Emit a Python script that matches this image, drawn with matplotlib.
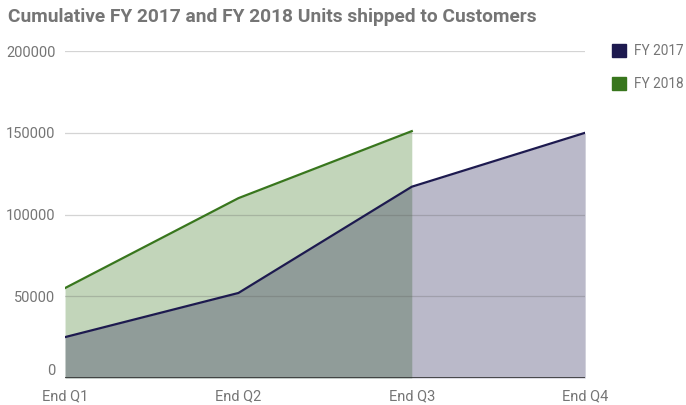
import numpy as np
from matplotlib import pyplot as plt
from matplotlib.patches import Patch

quarters = ["End Q1", "End Q2", "End Q3", "End Q4"]
fy2017 = [25000, 52000, 117000, 150000]
fy2018 = [55000, 110000, 151000]

c17 = "#1d1a4f"
c18 = "#38761d"
grey = "#757575"

plt.rcParams['font.family'] = ['Roboto', 'DejaVu Sans']

fig = plt.figure(figsize=(6.86, 4.05), dpi=100)
ax = fig.add_axes([0.0948, 0.0667, 0.7582, 0.8073])

x17 = np.arange(len(fy2017))
x18 = np.arange(len(fy2018))

ax.fill_between(x18, fy2018, color=c18, alpha=0.3, linewidth=0, zorder=1)
ax.fill_between(x17, fy2017, color=c17, alpha=0.3, linewidth=0, zorder=2)
ax.plot(x18, fy2018, color=c18, lw=1.6, zorder=4)
ax.plot(x17, fy2017, color=c17, lw=1.6, zorder=4)

ax.set_xlim(0, 3)
ax.set_ylim(0, 200000)
ax.set_xticks(x17)
ax.set_xticklabels(quarters)
ax.set_yticks([0, 50000, 100000, 150000, 200000])
ax.set_yticklabels(["0", "50000", "100000", "150000", "200000"])

for yv in [50000, 100000, 150000, 200000]:
    ax.axhline(yv, color="#555555", alpha=0.25, lw=0.9, zorder=3)
ax.axhline(0, color="#333333", lw=1.2, zorder=5)

for s in ax.spines.values():
    s.set_visible(False)
ax.tick_params(length=0, colors=grey, labelsize=10.5)
ax.tick_params(axis='y', pad=7)
ax.tick_params(axis='x', pad=8)
ax.get_yticklabels()[0].set_va('bottom')

fig.text(0.012, 0.958, "Cumulative FY 2017 and FY 2018 Units shipped to Customers",
         fontsize=13.8, fontweight='bold', color=grey, va='center', ha='left')

handles = [Patch(color=c17), Patch(color=c18)]
leg = fig.legend(handles, ["FY 2017", "FY 2018"], loc='upper left',
                 bbox_to_anchor=(0.892, 0.892), frameon=False, fontsize=9.8,
                 borderpad=0, borderaxespad=0,
                 handlelength=1.0, handleheight=1.1, labelspacing=1.4,
                 handletextpad=0.6)
for t in leg.get_texts():
    t.set_color(grey)

plt.savefig("out.png", dpi=100)
